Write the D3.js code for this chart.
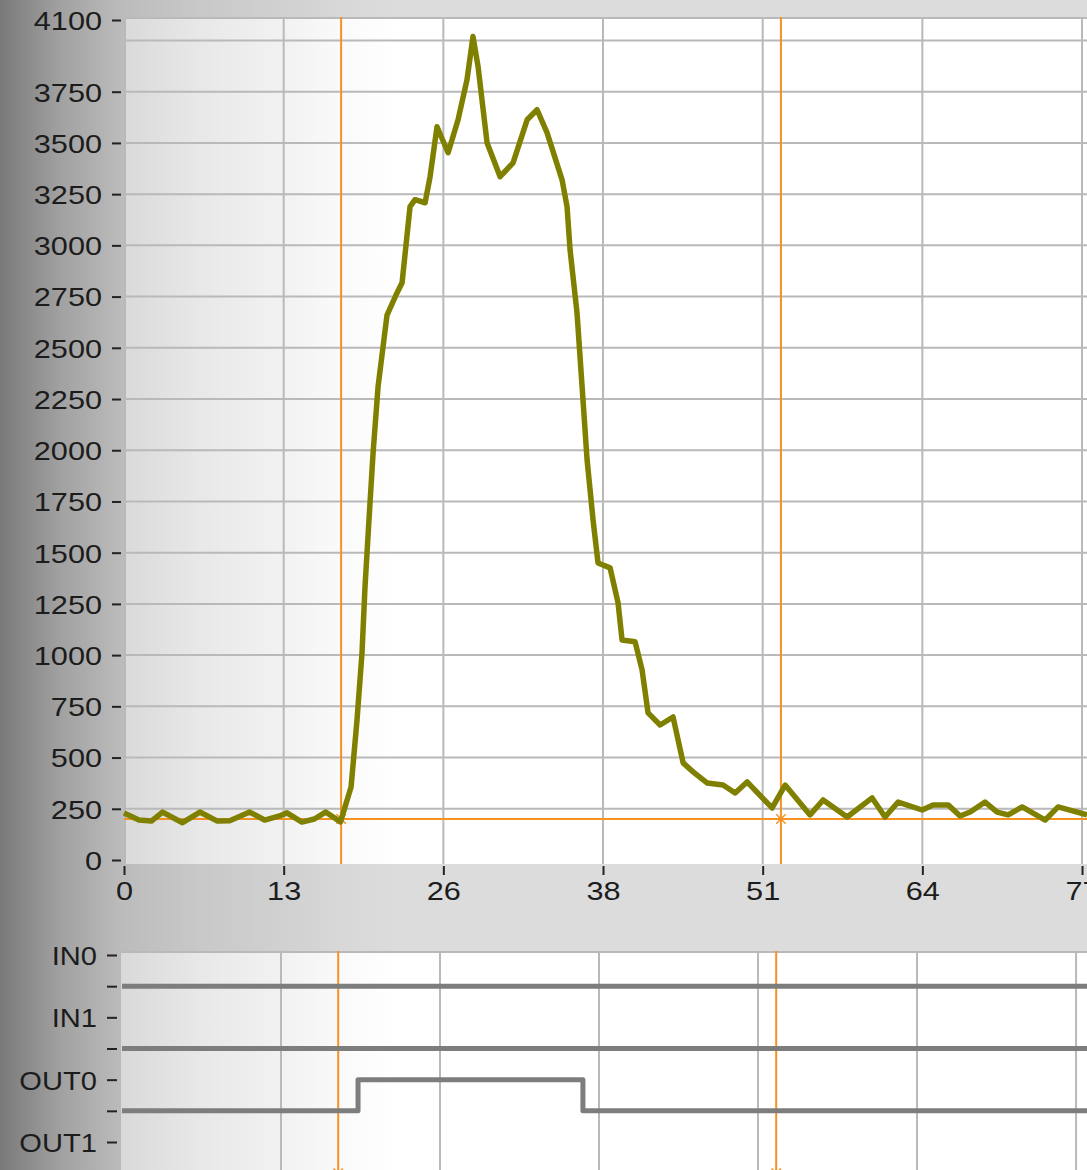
<!DOCTYPE html>
<html>
<head>
<meta charset="utf-8">
<script src="https://cdn.jsdelivr.net/npm/d3@7"></script>
<style>
  body { margin: 0; background: #dcdcdc; overflow: hidden; }
  svg { display: block; }
  text { font-family: "Liberation Sans", Arial, sans-serif; font-size: 26px; fill: #1c1c1c; }
</style>
</head>
<body>
<div id="chart"></div>
<script>
// trace (time, counts)
var times = [0, 1.2, 2.2, 3.1, 4.7, 6.1, 7.5, 8.5, 10.1, 11.3, 12.5, 13.1, 14.3, 15.3, 16.2, 17.4,
  18.25, 18.73, 19.13, 19.37, 19.69, 20.02, 20.42, 21.14, 21.95, 22.35,
  22.99, 23.39, 24.2, 24.6, 25.16, 26.05, 26.85, 27.57, 28.05, 28.46,
  29.18, 30.23, 31.27, 32.4, 33.2, 34.0, 35.21, 35.61, 35.85, 36.41,
  36.82, 37.22, 37.7, 38.1, 39.07, 39.71, 40.03, 41.08, 41.64, 42.12,
  43.09, 44.13, 44.94, 45.74, 46.86, 48.15, 49.12, 50.08, 52.09, 53.14,
  55.14, 56.19, 58.12, 60.13, 61.17, 62.22, 64.15, 65.03, 66.24, 67.2,
  68.01, 69.21, 70.18, 71.06, 72.19, 74.04, 75.08, 77.4];
var counts = [229, 195, 190, 234, 182, 234, 190, 192, 234, 195, 215, 230, 185, 200, 234, 186,
  356, 684, 1011, 1333, 1660, 1987, 2310, 2660, 2769, 2818,
  3189, 3223, 3208, 3335, 3579, 3452, 3613, 3809, 4019, 3872,
  3501, 3335, 3403, 3613, 3662, 3550, 3320, 3189, 2979, 2671,
  2310, 1953, 1660, 1450, 1426, 1255, 1074, 1065, 928, 718,
  659, 698, 474, 430, 376, 366, 327, 381, 254, 366,
  220, 293, 210, 303, 210, 283, 244, 269, 269, 215,
  234, 283, 234, 220, 259, 195, 259, 220];

var yTicks = [0, 250, 500, 750, 1000, 1250, 1500, 1750, 2000, 2250, 2500, 2750, 3000, 3250, 3500, 3750, 4100];
var yGrid = [250, 500, 750, 1000, 1250, 1500, 1750, 2000, 2250, 2500, 2750, 3000, 3250, 3500, 3750, 4000];
var xTickLabels = ["0", "13", "26", "38", "51", "64", "77"];
var xMax = 77;

var cursorTimes = [17.45, 52.8];
var cursorLevel = 200;

// digital lines: name and [time, state] changes (1 = high)
var channelNames = ["IN0", "IN1", "OUT0", "OUT1"];
var channelEdges = [
  [[0, 0]],
  [[0, 0]],
  [[0, 0], [19.05, 1], [37.2, 0]],
  [[0, 0]]
];

var W = 1087, H = 1170;
var svg = d3.select('#chart').append('svg').attr('width', W).attr('height', H);
var defs = svg.append('defs');

// dark shading down the left side of the panel
var shade = defs.append('linearGradient').attr('id', 'shade')
    .attr('gradientUnits', 'userSpaceOnUse')
    .attr('x1', 0).attr('x2', 400).attr('y1', 0).attr('y2', 0);
[[0, 0.45], [0.075, 0.36], [0.15, 0.27], [0.3, 0.15], [0.5, 0.09], [0.72, 0.05], [0.85, 0.02], [1, 0]]
  .forEach(function(s) {
    shade.append('stop').attr('offset', s[0]).attr('stop-color', '#000').attr('stop-opacity', s[1]);
  });

var x = d3.scaleLinear().domain([0, 77.4]).range([124, 1087]);
var y = d3.scaleLinear().domain([0, 4100]).range([860, 20]);
var xd = d3.scaleLinear().domain([0, 77.4]).range([122, 1081]);
var yd = d3.scaleLinear().domain([0, 6]).range([955, 1142]);

var xTickVals = xTickLabels.map(function(d, i) { return i * xMax / 6; });
var sx = 1.18;

svg.append('rect').attr('width', W).attr('height', H).attr('fill', '#dcdcdc');
svg.append('rect').attr('x', 124).attr('y', 17).attr('width', W - 124).attr('height', 847).attr('fill', '#fff');
svg.append('rect').attr('x', 119).attr('y', 951).attr('width', W - 119).attr('height', H - 951).attr('fill', '#fff');
svg.append('rect').attr('width', 400).attr('height', H).attr('fill', 'url(#shade)');

// main plot grid
var grid = svg.append('g').attr('stroke', '#b9b9b9').attr('stroke-width', 2);
grid.selectAll('.gy').data(yGrid).enter().append('line')
    .attr('x1', 124).attr('x2', W).attr('y1', function(d) { return y(d); }).attr('y2', function(d) { return y(d); });
grid.selectAll('.gx').data(xTickVals.slice(1)).enter().append('line')
    .attr('y1', 17).attr('y2', 864).attr('x1', function(d) { return x(d); }).attr('x2', function(d) { return x(d); });
grid.append('line').attr('x1', 124).attr('x2', W).attr('y1', 18).attr('y2', 18);
grid.append('line').attr('x1', 125).attr('x2', 125).attr('y1', 17).attr('y2', 864);

// lower plot grid
var grid2 = svg.append('g').attr('stroke', '#b9b9b9').attr('stroke-width', 2);
grid2.selectAll('line.v').data(xTickVals.slice(1)).enter().append('line')
    .attr('y1', 951).attr('y2', H).attr('x1', function(d) { return xd(d); }).attr('x2', function(d) { return xd(d); });
grid2.append('line').attr('x1', 119).attr('x2', W).attr('y1', 952).attr('y2', 952);
grid2.append('line').attr('x1', 120).attr('x2', 120).attr('y1', 951).attr('y2', H);

// y axis
var yAxis = svg.append('g').attr('transform', 'translate(121,0)')
    .call(d3.axisLeft(y).tickValues(yTicks).tickSize(9).tickFormat(d3.format('d')));
yAxis.select('.domain').remove();
yAxis.selectAll('line').attr('stroke', '#222').attr('stroke-width', 2);
yAxis.selectAll('text').attr('x', -19 / sx).attr('dy', '0.36em')
    .attr('transform', 'scale(' + sx + ',1)').style('font-size', '26px').attr('fill', '#1c1c1c');

// x axis
var xAxis = svg.append('g').attr('transform', 'translate(0,866)')
    .call(d3.axisBottom(x).tickValues(xTickVals).tickSize(9).tickPadding(7)
      .tickFormat(function(d, i) { return xTickLabels[i]; }));
xAxis.select('.domain').remove();
xAxis.selectAll('line').attr('stroke', '#222').attr('stroke-width', 2);
xAxis.selectAll('text').attr('transform', 'scale(' + sx + ',1)').style('font-size', '26px').attr('fill', '#1c1c1c');

// digital axis
var dAxis = svg.append('g').attr('transform', 'translate(117,0)')
    .call(d3.axisLeft(yd).tickValues([0, 1, 2, 3, 4, 5, 6]).tickSize(10)
      .tickFormat(function(d) { return d % 2 ? '' : channelNames[d / 2]; }));
dAxis.select('.domain').remove();
dAxis.selectAll('line').attr('stroke', '#222').attr('stroke-width', 2);
dAxis.selectAll('text').attr('x', -20 / 1.12).attr('dy', '0.36em')
    .attr('transform', 'scale(1.12,1)').style('font-size', '26px').attr('fill', '#1c1c1c');

// cursors
var orange = '#f7911f';
var cur = svg.append('g').attr('stroke', orange).attr('stroke-width', 2);
cur.append('line').attr('x1', 124).attr('x2', W).attr('y1', y(cursorLevel)).attr('y2', y(cursorLevel));
cur.selectAll('.cv').data(cursorTimes).enter().append('line')
    .attr('x1', function(d) { return x(d); }).attr('x2', function(d) { return x(d); })
    .attr('y1', 17).attr('y2', 864);
cur.selectAll('.cd').data(cursorTimes).enter().append('line')
    .attr('x1', function(d) { return xd(d); }).attr('x2', function(d) { return xd(d); })
    .attr('y1', 951).attr('y2', H);

// trace
var line = d3.line()
    .x(function(d, i) { return x(times[i]); })
    .y(function(d) { return y(d); });
svg.append('path').datum(counts)
    .attr('d', line)
    .attr('fill', 'none')
    .attr('stroke', '#808000')
    .attr('stroke-width', 5.5)
    .attr('stroke-linejoin', 'round');

// cursor markers
var mark = d3.symbol().type(d3.symbolTimes).size(60);
cur.selectAll('.m').data(cursorTimes).enter().append('path')
    .attr('d', mark).attr('fill', 'none').attr('stroke-width', 1.5)
    .attr('transform', function(d) { return 'translate(' + x(d) + ',' + y(cursorLevel) + ')'; });
cur.selectAll('.m2').data(cursorTimes).enter().append('path')
    .attr('d', mark).attr('fill', 'none').attr('stroke-width', 1.5)
    .attr('transform', function(d) { return 'translate(' + xd(d) + ',' + yd(7) + ')'; });

// digital traces, run on past the right edge
var tEnd = xd.invert(W + 10);
var step = d3.line().curve(d3.curveStepAfter)
    .x(function(d) { return xd(d[0]); })
    .y(function(d) { return d[2]; });
channelEdges.forEach(function(edges, i) {
  var pts = edges.map(function(e) { return [e[0], e[1], yd(2 * i + (e[1] ? 0 : 1))]; });
  var last = pts[pts.length - 1];
  pts.push([tEnd, last[1], last[2]]);
  svg.append('path').datum(pts)
      .attr('d', step)
      .attr('fill', 'none')
      .attr('stroke', '#7d7d7d')
      .attr('stroke-width', 5)
      .attr('stroke-linejoin', 'round');
});
</script>
</body>
</html>
